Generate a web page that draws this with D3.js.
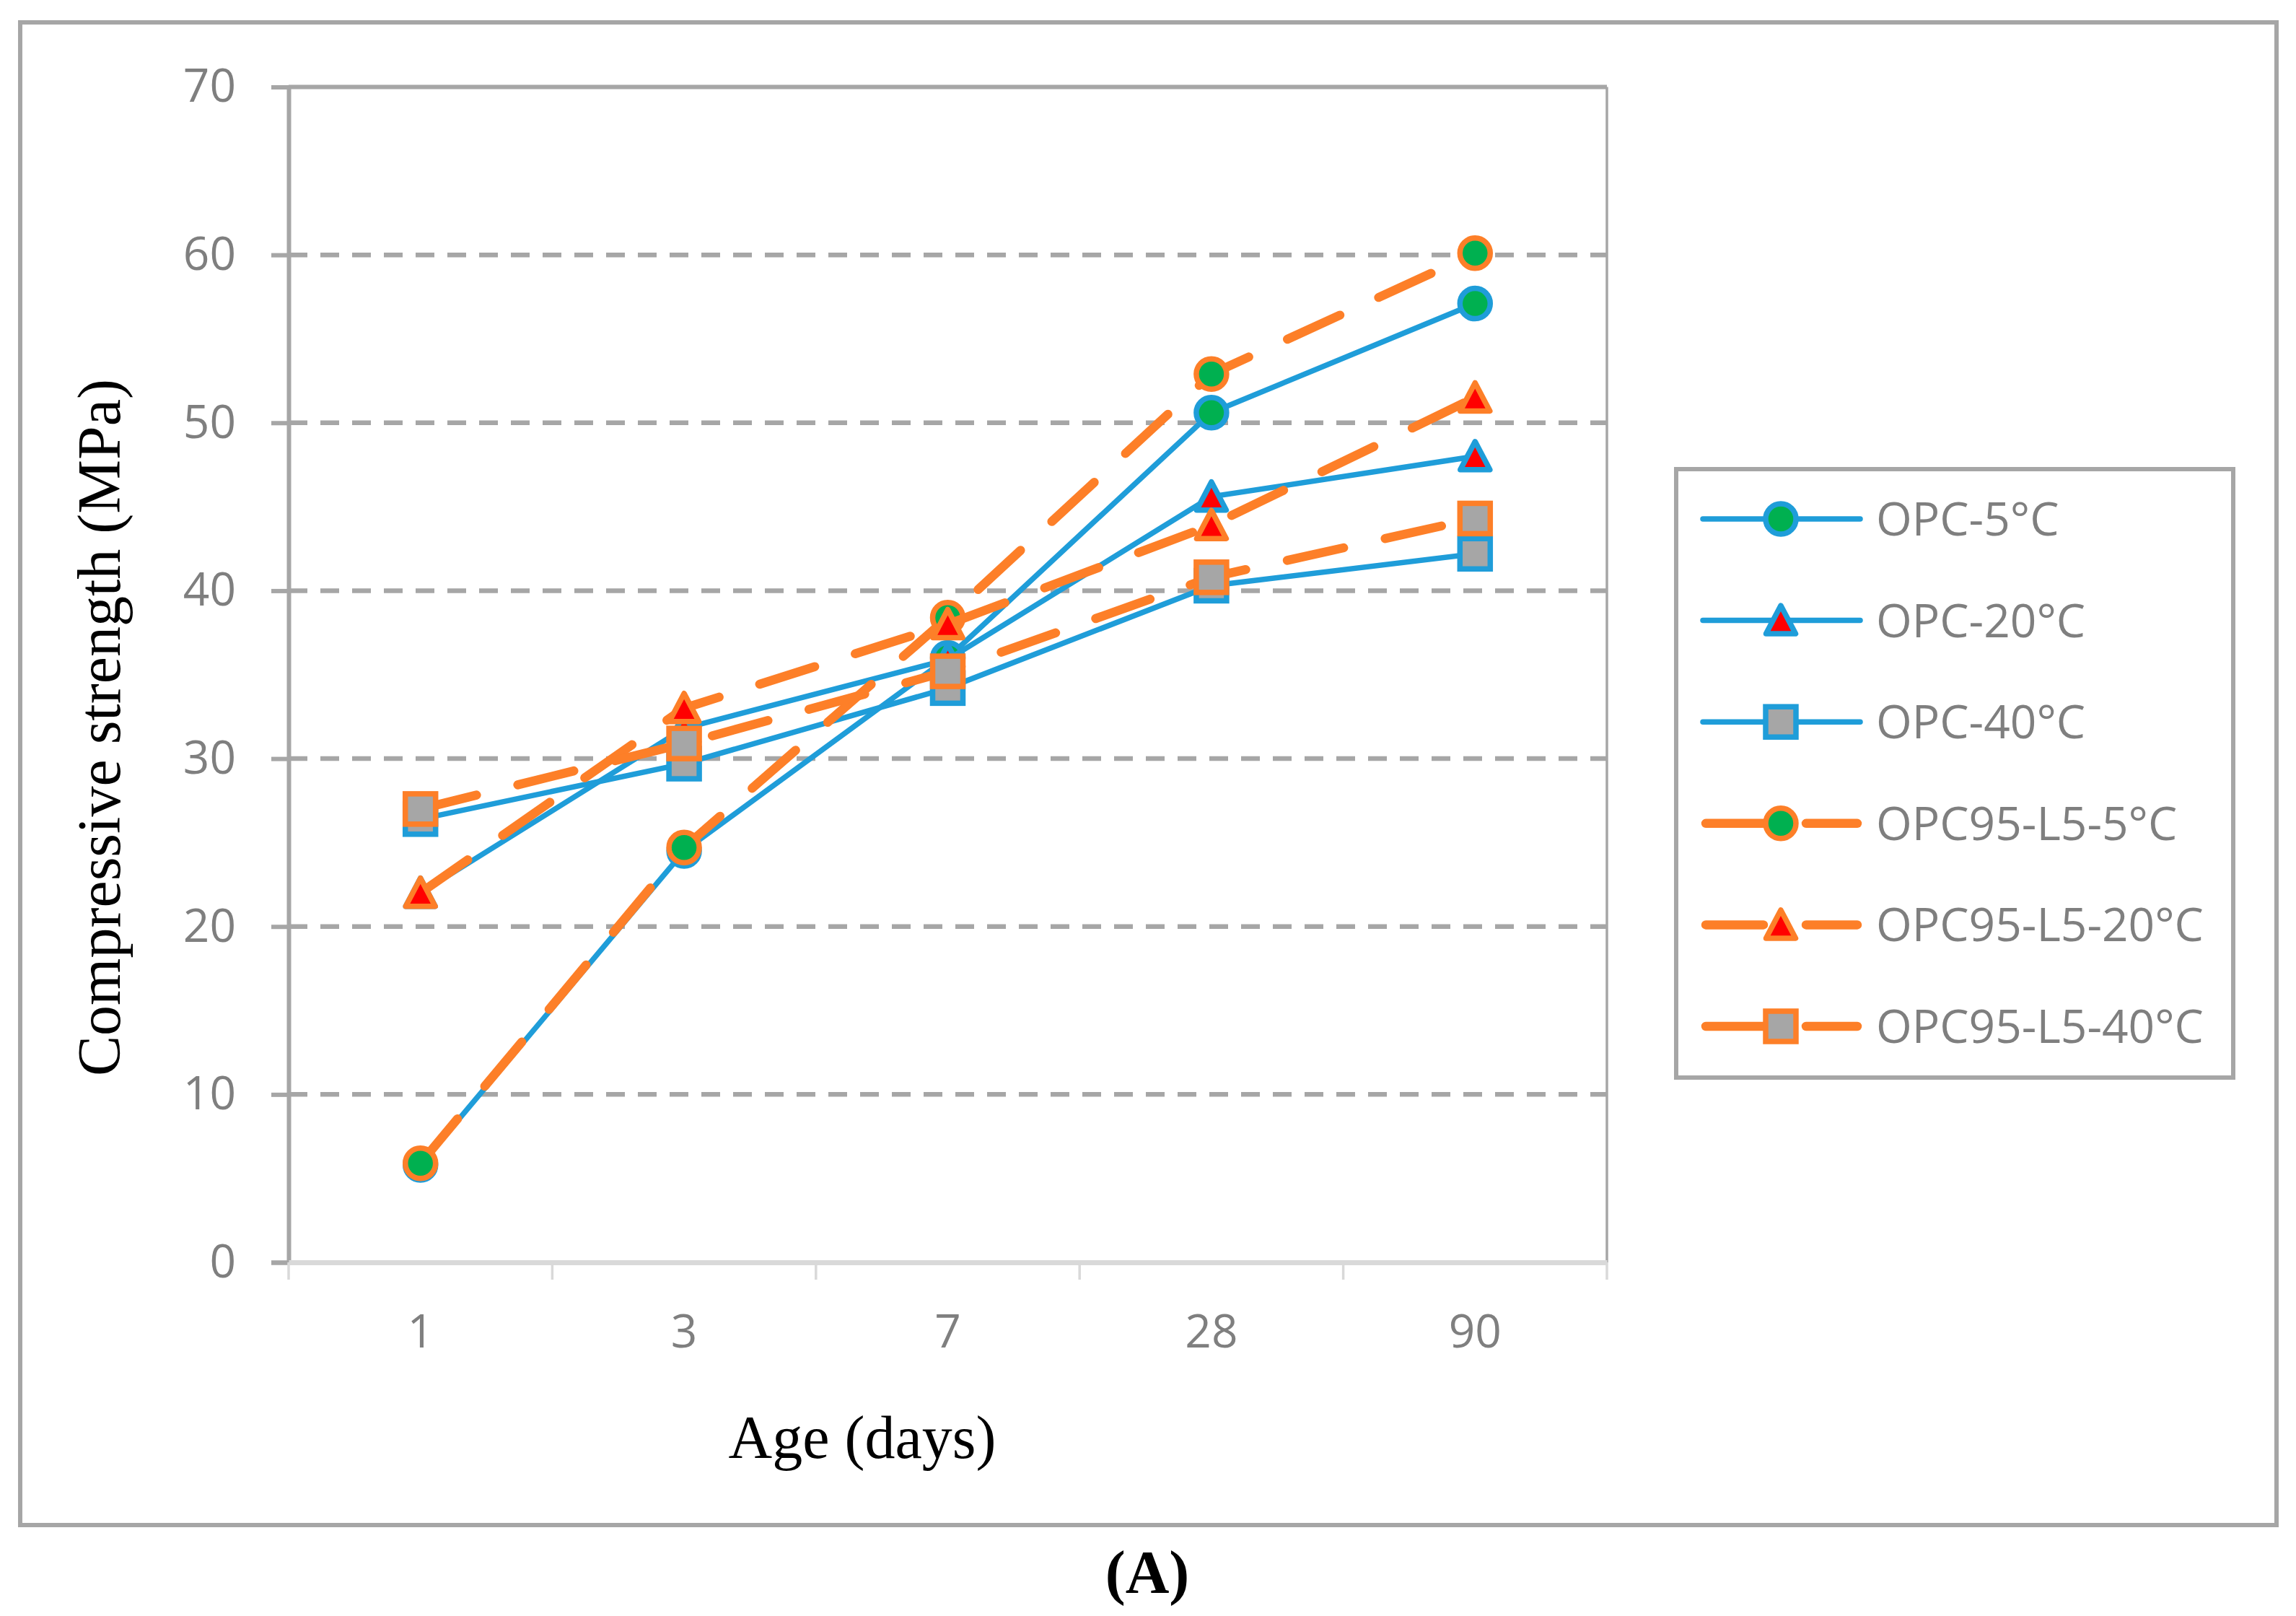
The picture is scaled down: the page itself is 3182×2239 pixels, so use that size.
<!DOCTYPE html>
<html>
<head>
<meta charset="utf-8">
<script src="https://cdn.jsdelivr.net/npm/d3@7"></script>
<style>
  html, body { margin: 0; padding: 0; background: #fff; }
  svg { display: block; }
</style>
</head>
<body>
<svg id="chart" width="3182" height="2239"></svg>
<script>
// data
const ages = ["1", "3", "7", "28", "90"];
const yTicks = [0, 10, 20, 30, 40, 50, 60, 70];

const seriesNames = ["OPC-5°C", "OPC-20°C", "OPC-40°C", "OPC95-L5-5°C", "OPC95-L5-20°C", "OPC95-L5-40°C"];
const opc5 = [5.8, 24.5, 36.0, 50.6, 57.1];
const opc20 = [22.0, 31.8, 35.9, 45.6, 48.0];
const opc40 = [26.4, 29.7, 34.2, 40.3, 42.2];
const lime5 = [5.9, 24.7, 38.4, 52.9, 60.1];
const lime20 = [22.0, 33.0, 38.0, 43.9, 51.5];
const lime40 = [27.0, 30.9, 35.2, 40.8, 44.3];

const BLUE = "#1f9dd9", ORANGE = "#fd7f28", GREY = "#a6a6a6";
const FILL = { circle: "#00b050", triangle: "#ff0000", square: "#a6a6a6" };

const series = [
    { name: seriesNames[0], values: opc5,   color: BLUE,   shape: "circle",   dashed: false },
    { name: seriesNames[1], values: opc20,  color: BLUE,   shape: "triangle", dashed: false },
    { name: seriesNames[2], values: opc40,  color: BLUE,   shape: "square",   dashed: false },
    { name: seriesNames[3], values: lime5,  color: ORANGE, shape: "circle",   dashed: true },
    { name: seriesNames[4], values: lime20, color: ORANGE, shape: "triangle", dashed: true },
    { name: seriesNames[5], values: lime40, color: ORANGE, shape: "square",   dashed: true }
];

const svg = d3.select("#chart");
const plot = { left: 400, right: 2227, top: 120.5, bottom: 1749 };

const x = d3.scaleBand().domain(ages).range([plot.left, plot.right]);
const y = d3.scaleLinear().domain([0, 70]).range([plot.bottom, plot.top]);
const cx = d => x(d) + x.bandwidth() / 2;

// outer frame
svg.append("rect")
    .attr("x", 28).attr("y", 31).attr("width", 3127).attr("height", 2082)
    .attr("fill", "none").attr("stroke", GREY).attr("stroke-width", 6);

// gridlines
svg.append("g").selectAll("line")
    .data(yTicks.filter(t => t > 0 && t < 70)).enter().append("line")
    .attr("x1", plot.left).attr("x2", plot.right)
    .attr("y1", d => y(d)).attr("y2", d => y(d))
    .attr("stroke", GREY).attr("stroke-width", 6.5)
    .attr("stroke-dasharray", "26,18");

// plot area top and right border
svg.append("line")
    .attr("x1", plot.left).attr("x2", plot.right)
    .attr("y1", y(70)).attr("y2", y(70))
    .attr("stroke", GREY).attr("stroke-width", 6);
svg.append("line")
    .attr("x1", plot.right).attr("x2", plot.right)
    .attr("y1", y(70)).attr("y2", plot.bottom)
    .attr("stroke", GREY).attr("stroke-width", 3.5);

// y axis
const yAxis = svg.append("g")
    .attr("transform", `translate(${plot.left},0)`)
    .call(d3.axisLeft(y).tickValues(yTicks).tickSize(24).tickPadding(49));
yAxis.select(".domain").attr("stroke", GREY).attr("stroke-width", 6);
yAxis.selectAll(".tick line").attr("stroke", GREY).attr("stroke-width", 6);
yAxis.selectAll(".tick text")
    .attr("fill", "#7f7f7f")
    .style("font-family", "'Open Sans', 'Noto Sans', sans-serif")
    .style("font-size", "64px");

// x axis
const xAxis = svg.append("g")
    .attr("transform", `translate(0,${plot.bottom})`)
    .call(d3.axisBottom(x).tickSize(0).tickSizeOuter(0));
xAxis.select(".domain").attr("stroke", "#d9d9d9").attr("stroke-width", 7);
xAxis.selectAll(".tick text")
    .attr("y", 118).attr("dy", 0)
    .attr("fill", "#7f7f7f")
    .style("font-family", "'Open Sans', 'Noto Sans', sans-serif")
    .style("font-size", "64px");
xAxis.selectAll(".boundary")
    .data(ages.map(a => x(a)).concat([plot.right])).enter().append("line")
    .attr("x1", d => d).attr("x2", d => d)
    .attr("y1", 0).attr("y2", 24)
    .attr("stroke", "#d9d9d9").attr("stroke-width", 3.5);

// axis titles
svg.append("text")
    .attr("transform", "translate(166,1008) rotate(-90)")
    .attr("text-anchor", "middle")
    .style("font-family", "'Liberation Serif', 'Times New Roman', serif")
    .style("font-size", "84px")
    .text("Compressive strength (MPa)");

svg.append("text")
    .attr("x", 1195).attr("y", 2020)
    .attr("text-anchor", "middle")
    .style("font-family", "'Liberation Serif', 'Times New Roman', serif")
    .style("font-size", "84px")
    .text("Age (days)");

svg.append("text")
    .attr("x", 1590).attr("y", 2207)
    .attr("text-anchor", "middle")
    .style("font-family", "'Liberation Serif', 'Times New Roman', serif")
    .style("font-size", "84px")
    .style("font-weight", "bold")
    .text("(A)");

// markers
function drawMarker(g, shape, stroke, px, py) {
    if (shape === "circle") {
        g.append("circle").attr("cx", px).attr("cy", py).attr("r", 21)
            .attr("fill", FILL.circle).attr("stroke", stroke).attr("stroke-width", 7.5);
    } else if (shape === "square") {
        g.append("rect").attr("x", px - 21).attr("y", py - 21)
            .attr("width", 42).attr("height", 42)
            .attr("fill", FILL.square).attr("stroke", stroke).attr("stroke-width", 7.5);
    } else {
        const w = 41, h = 37;
        g.append("path")
            .attr("d", `M${px},${py - h / 2 - 2}L${px + w / 2},${py + h / 2}L${px - w / 2},${py + h / 2}Z`)
            .attr("fill", FILL.triangle).attr("stroke", stroke).attr("stroke-width", 7.5)
            .attr("stroke-linejoin", "round");
    }
}

const line = d3.line().x((d, i) => cx(ages[i])).y(d => y(d));

series.forEach(s => {
    const g = svg.append("g");
    g.append("path")
        .attr("d", line(s.values))
        .attr("fill", "none")
        .attr("stroke", s.color)
        .attr("stroke-width", s.dashed ? 12.5 : 7.5)
        .attr("stroke-linecap", s.dashed ? "round" : "butt")
        .attr("stroke-dasharray", s.dashed ? "80,59" : null);
    s.values.forEach((v, i) => drawMarker(g, s.shape, s.color, cx(ages[i]), y(v)));
});

// legend
const legend = svg.append("g");
legend.append("rect")
    .attr("x", 2323).attr("y", 650).attr("width", 772).attr("height", 843)
    .attr("fill", "#fff").attr("stroke", GREY).attr("stroke-width", 6);

series.forEach((s, i) => {
    const ly = 719 + i * 140.6;
    legend.append("line")
        .attr("x1", s.dashed ? 2364 : 2360).attr("x2", s.dashed ? 2574 : 2578)
        .attr("y1", ly).attr("y2", ly)
        .attr("stroke", s.color)
        .attr("stroke-width", s.dashed ? 12.5 : 7.5)
        .attr("stroke-linecap", "round")
        .attr("stroke-dasharray", s.dashed ? "80,59" : null);
    drawMarker(legend, s.shape, s.color, 2468, ly);
    legend.append("text")
        .attr("x", 2600).attr("y", ly + 23)
        .attr("fill", "#7f7f7f")
        .style("font-family", "'Open Sans', 'Noto Sans', sans-serif")
        .style("font-size", "64px")
        .text(s.name);
});
</script>
</body>
</html>
